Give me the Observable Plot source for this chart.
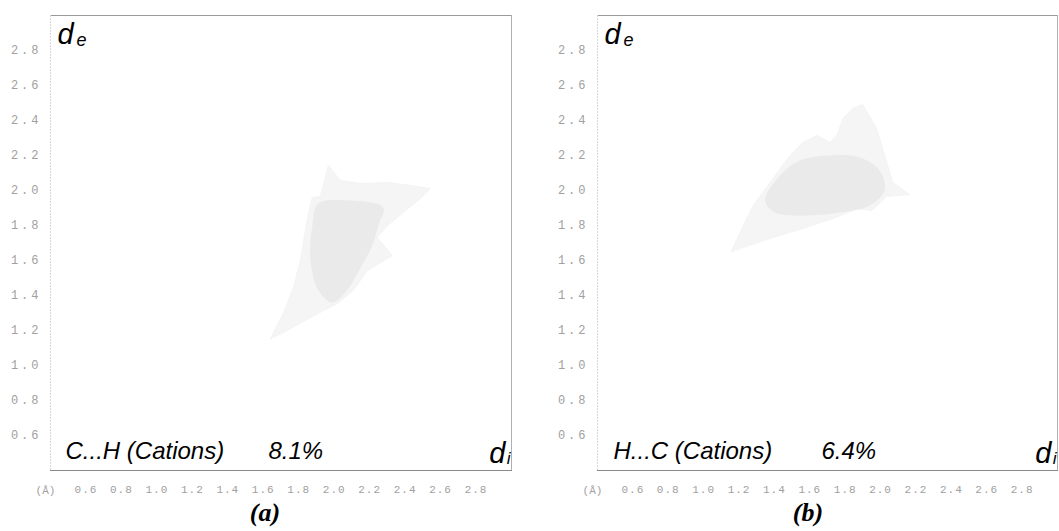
<!DOCTYPE html>
<html><head><meta charset="utf-8">
<script src="https://cdn.jsdelivr.net/npm/d3@7"></script>
<script src="https://cdn.jsdelivr.net/npm/@observablehq/plot@0.6"></script>
<style>
body{margin:0;background:#fff;}
#wrap{display:flex;width:1059px;}
.panel{position:relative;}
.cap{font-family:"Liberation Serif",serif;font-weight:bold;font-style:italic;font-size:26px;line-height:30px;text-align:center;color:#000;margin-top:-2px;}
svg [aria-label="y-axis tick label"] text{letter-spacing:3px;}
svg [aria-label="x-axis tick label"] text{letter-spacing:1px;}
</style></head>
<body>
<svg width="0" height="0" style="position:absolute">
<defs>
<pattern id="pOuter" width="2" height="2" patternUnits="userSpaceOnUse"><rect width="2" height="2" fill="#fbfbfb"/><rect x="0" y="0" width="1" height="1" fill="#e2e2e2"/></pattern>
<pattern id="pCore" width="2" height="2" patternUnits="userSpaceOnUse"><rect width="2" height="2" fill="#f6f6f6"/><rect x="0" y="0" width="2" height="1" fill="#dedede"/></pattern>
</defs></svg>
<div id="wrap"></div>
<script>
// ---- data ----
const tickValues = [0.6, 0.8, 1.0, 1.2, 1.4, 1.6, 1.8, 2.0, 2.2, 2.4, 2.6, 2.8];
const axisDomain = [0.4, 3.0];
const contactLabels = ["C...H (Cations)", "H...C (Cations)"];
const contactPercents = ["8.1%", "6.4%"];
const panelCaptions = ["(a)", "(b)"];

// panel (a) C...H : outline and dense core of the fingerprint (di, de)
const aOuterDi = [1.640, 1.713, 1.770, 1.809, 1.849, 1.877, 1.922, 1.967, 2.035, 2.147, 2.300, 2.429, 2.542, 2.486, 2.390, 2.300, 2.243, 2.328, 2.187, 2.108, 2.018, 1.866, 1.736];
const aOuterDe = [1.154, 1.297, 1.446, 1.600, 1.840, 1.960, 1.966, 2.143, 2.057, 2.040, 2.046, 2.029, 2.011, 1.954, 1.874, 1.800, 1.731, 1.629, 1.543, 1.429, 1.354, 1.274, 1.200];
const aCoreDi = [1.911, 2.091, 2.277, 2.249, 2.215, 2.147, 2.063, 1.990, 1.911, 1.866, 1.877];
const aCoreDe = [1.926, 1.943, 1.903, 1.800, 1.686, 1.554, 1.417, 1.360, 1.429, 1.600, 1.800];

// panel (b) H...C
const bOuterDi = [1.155, 1.279, 1.392, 1.488, 1.561, 1.640, 1.713, 1.753, 1.787, 1.843, 1.899, 1.978, 2.035, 2.069, 2.164, 2.035, 1.950, 1.871, 1.730, 1.561, 1.375];
const bOuterDe = [1.651, 1.914, 2.069, 2.200, 2.274, 2.314, 2.274, 2.314, 2.411, 2.469, 2.491, 2.354, 2.160, 2.046, 1.977, 1.966, 1.886, 1.897, 1.840, 1.783, 1.726];
const bCoreDi = [1.347, 1.432, 1.544, 1.713, 1.883, 1.995, 2.023, 1.939, 1.770, 1.544, 1.403];
const bCoreDe = [1.943, 2.086, 2.171, 2.200, 2.189, 2.114, 2.000, 1.914, 1.874, 1.857, 1.874];

const toPts = (di, de) => di.map((v, i) => ({di: v, de: de[i]}));

function panel(idx, outer, core, cfg) {
  const txt = {fontFamily: "Liberation Sans, Arial, sans-serif", fill: "#000"};
  const mono = "Liberation Mono, Courier New, monospace";
  return Plot.plot({
    width: cfg.width, height: 500,
    marginLeft: cfg.ml, marginRight: cfg.mr, marginTop: 15, marginBottom: 30,
    style: {fontFamily: mono, fontSize: "11px", color: "#a0a0a0", background: "white", overflow: "visible"},
    x: {domain: axisDomain},
    y: {domain: axisDomain},
    marks: [
      Plot.line(outer, {x: "di", y: "de", curve: "linear-closed", fill: "url(#pOuter)", stroke: "#f4f4f4", strokeWidth: 1}),
      Plot.line(core, {x: "di", y: "de", curve: "catmull-rom-closed", fill: "url(#pCore)", stroke: "none"}),
      Plot.frame({anchor: "top", stroke: "#9a9a9a"}),
      Plot.frame({anchor: "right", stroke: "#b0b0b0"}),
      Plot.frame({anchor: "bottom", stroke: "#8a8a8a", strokeWidth: 1.2}),
      Plot.frame({anchor: "left", stroke: "#d8d8d8", strokeDasharray: "1,2"}),
      Plot.axisX({ticks: tickValues, tickFormat: d3.format(".1f"), tickSize: 0, tickPadding: 15, label: null, fontSize: 11, fontFamily: mono, color: "#a0a0a0"}),
      Plot.axisY({ticks: tickValues, tickFormat: d3.format(".1f"), tickSize: 0, tickPadding: 9, label: null, fontSize: 12, fontFamily: mono, color: "#a0a0a0"}),
      Plot.text(["(Å)"], {frameAnchor: "bottom-left", dx: -5, dy: 20, text: d => d, textAnchor: "middle", lineAnchor: "middle", fontSize: 11, fontFamily: mono, fill: "#a0a0a0"}),
      Plot.text(["d"], {frameAnchor: "top-left", dx: 7, dy: 28, text: d => d, textAnchor: "start", lineAnchor: "bottom", fontSize: 29, fontStyle: "italic", ...txt}),
      Plot.text(["e"], {frameAnchor: "top-left", dx: 26, dy: 30, text: d => d, textAnchor: "start", lineAnchor: "bottom", fontSize: 18, fontStyle: "italic", ...txt}),
      Plot.text(["d"], {frameAnchor: "bottom-right", dx: -6, dy: -8, text: d => d, textAnchor: "end", lineAnchor: "bottom", fontSize: 29, fontStyle: "italic", ...txt}),
      Plot.text(["i"], {frameAnchor: "bottom-right", dx: -1, dy: -7, text: d => d, textAnchor: "end", lineAnchor: "bottom", fontSize: 17, fontStyle: "italic", ...txt}),
      Plot.text([contactLabels[idx]], {frameAnchor: "bottom-left", dx: cfg.labelDx, dy: -12, text: d => d, textAnchor: "start", lineAnchor: "bottom", fontSize: 24, fontStyle: "italic", ...txt}),
      Plot.text([contactPercents[idx]], {frameAnchor: "bottom-left", dx: cfg.pctDx, dy: -12, text: d => d, textAnchor: "start", lineAnchor: "bottom", fontSize: 24, fontStyle: "italic", ...txt})
    ]
  });
}

const wrap = document.getElementById("wrap");
const cfgs = [
  {width: 530, ml: 50, mr: 19, labelDx: 15, pctDx: 218, capPad: 0},
  {width: 529, ml: 67, mr: 2, labelDx: 16, pctDx: 224, capPad: 27}
];
const shapes = [
  [toPts(aOuterDi, aOuterDe), toPts(aCoreDi, aCoreDe)],
  [toPts(bOuterDi, bOuterDe), toPts(bCoreDi, bCoreDe)]
];
cfgs.forEach((cfg, i) => {
  const div = document.createElement("div");
  div.className = "panel";
  div.style.width = cfg.width + "px";
  div.appendChild(panel(i, shapes[i][0], shapes[i][1], cfg));
  const cap = document.createElement("div");
  cap.className = "cap";
  cap.style.paddingLeft = cfg.capPad + "px";
  cap.textContent = panelCaptions[i];
  div.appendChild(cap);
  wrap.appendChild(div);
});
</script>
</body></html>
